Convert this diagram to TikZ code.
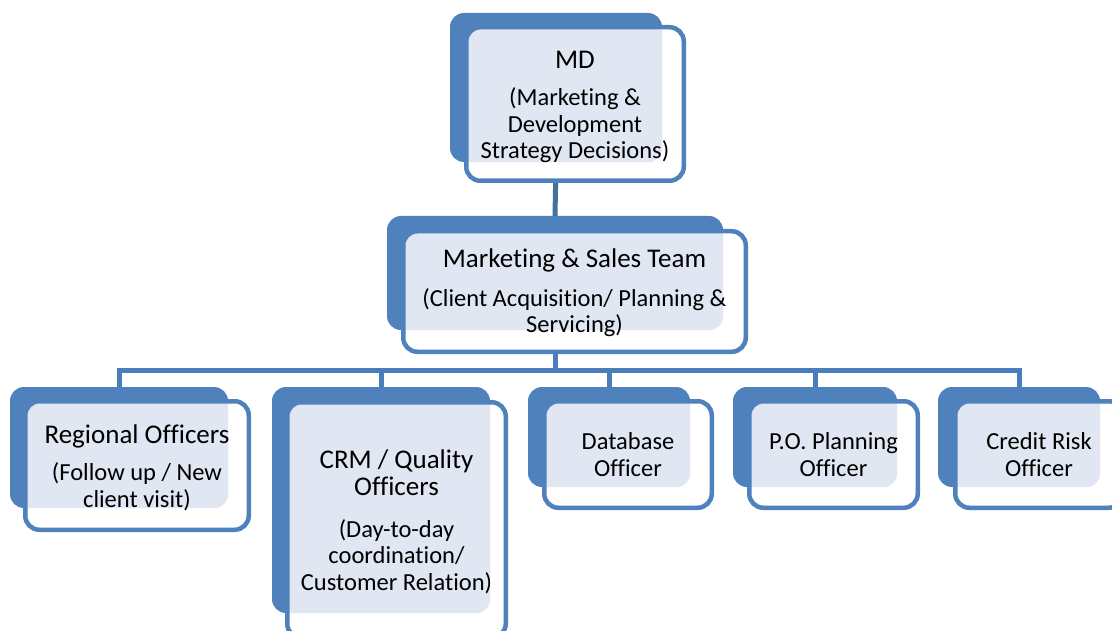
\documentclass[tikz,border=0pt]{standalone}
\usepackage{fontspec}
\setmainfont{Carlito}[Ligatures=NoCommon]
\usetikzlibrary{backgrounds}
\definecolor{boxblue}{HTML}{4F81BD}
\definecolor{tintblue}{HTML}{E0E7F2}
\definecolor{connblue}{HTML}{4A7EBB}
\definecolor{conndark}{HTML}{41719C}
\newcommand\ttl[1]{{\fontsize{27}{27}\selectfont #1}}
\begin{document}
\begin{tikzpicture}[x=1pt,y=-1pt,
  backbox/.style={fill=boxblue, rounded corners=14pt, inner sep=0pt},
  frontbox/.style={fill=white, draw=boxblue, line width=4.5pt, rounded corners=14pt,
    inner sep=0pt, align=center, text=black, font=\fontsize{24.5}{26.5}\selectfont,
    path picture={\fill[tintblue, rounded corners=14pt] (#1.north west) rectangle (#1.south east);}},
  txt/.style={align=center, text=black, inner sep=0pt, font=\fontsize{24.5}{26.5}\selectfont},
  conn/.style={draw=connblue, line width=5pt}]
\path[use as bounding box, clip] (0,0) rectangle (1112,631);

% MD
\node[backbox, minimum width=212pt, minimum height=149pt] (mdb) at (556,87.5) {};
\node[frontbox=mdb, minimum width=217.5pt, minimum height=153.5pt] (md) at (575,104) {};
\node[txt] (mdt) at (575,107)
  {\ttl{MD}\\[11pt](Marketing \&\\Development\\Strategy Decisions)};

% Marketing
\node[backbox, minimum width=336pt, minimum height=114pt] (mkb) at (555,273) {};
\node[frontbox=mkb, minimum width=342.5pt, minimum height=120.5pt] (mk) at (574.5,291.5) {};
\node[txt] (mkt) at (574.5,293)
  {\ttl{Marketing \& Sales Team}\\[12pt](Client Acquisition/ Planning \&\\Servicing)};

% Regional
\node[backbox, minimum width=218pt, minimum height=121pt] (regb) at (119,447.5) {};
\node[frontbox=regb, minimum width=223.5pt, minimum height=128.5pt] (reg) at (137,465.5) {};
\node[txt] (regt) at (137,467.5)
  {\ttl{Regional Officers}\\[11pt](Follow up / New\\client visit)};

% CRM
\node[backbox, minimum width=218pt, minimum height=226pt] (crmb) at (381,500) {};
\node[frontbox=crmb, minimum width=218.5pt, minimum height=235.5pt] (crm) at (396.5,520) {};
\node[txt] (crmt) at (396.5,521.5)
  {\ttl{CRM / Quality}\\[1pt]\ttl{Officers}\\[15pt](Day-to-day\\coordination/\\Customer Relation)};

% Database
\node[backbox, minimum width=162pt, minimum height=100pt] (dbb) at (609,437) {};
\node[frontbox=dbb, minimum width=167.5pt, minimum height=106.5pt] (db) at (628,454.5)
  {Database\\Officer};

% P.O. Planning
\node[backbox, minimum width=164pt, minimum height=100pt] (pob) at (815,437) {};
\node[frontbox=pob, minimum width=168.5pt, minimum height=106.5pt] (po) at (833.5,454.5)
  {P.O. Planning\\Officer};

% Credit Risk
\node[backbox, minimum width=162pt, minimum height=100pt] (crb) at (1019,437) {};
\node[frontbox=crb, minimum width=167.5pt, minimum height=106.5pt] (cr) at (1039,454.5)
  {Credit Risk\\Officer};

\begin{scope}[on background layer]
  \fill[white] (0,0) rectangle (1112,631);
  \coordinate (bus) at (0,370);
  \draw[conn, draw=conndark] (mdb.south) -- (mkb.north);
  \draw[conn] (mkb.south) -- (mkb.south |- bus);
  \draw[conn] (regb.north) -- (regb.north |- bus) -- (crb.north |- bus) -- (crb.north);
  \foreach \n in {crmb, dbb, pob} \draw[conn] (\n.north) -- (\n.north |- bus);
\end{scope}
\end{tikzpicture}
\end{document}
